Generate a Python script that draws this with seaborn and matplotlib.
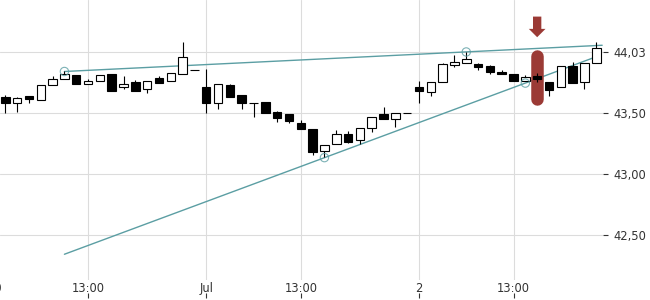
import numpy as np
import pandas as pd
import matplotlib
matplotlib.use("Agg")
import matplotlib.pyplot as plt
import seaborn as sns

# --- data ---
opens = [43.630, 43.580, 43.639, 43.604, 43.730, 43.779, 43.809, 43.735, 43.760, 43.820,
         43.711, 43.754, 43.694, 43.787, 43.760, 43.820, 43.852, 43.711, 43.580, 43.730,
         43.648, 43.584, 43.588, 43.508, 43.492, 43.418, 43.366, 43.189, 43.243, 43.325,
         43.276, 43.375, 43.489, 43.453, 43.502, 43.711, 43.670, 43.752, 43.891, 43.907,
         43.902, 43.883, 43.834, 43.817, 43.760, 43.801, 43.752, 43.711, 43.885, 43.757,
         43.907]
highs = [43.645, 43.629, 43.639, 43.727, 43.803, 43.847, 43.809, 43.776, 43.809, 43.820,
         43.803, 43.770, 43.765, 43.803, 43.825, 44.082, 43.852, 43.858, 43.735, 43.738,
         43.648, 43.584, 43.588, 43.516, 43.492, 43.440, 43.366, 43.235, 43.361, 43.352,
         43.375, 43.470, 43.547, 43.498, 43.502, 43.762, 43.752, 43.907, 43.975, 43.998,
         43.912, 43.896, 43.852, 43.817, 43.809, 43.830, 43.752, 43.885, 43.918, 43.907,
         44.082]
lows = [43.498, 43.511, 43.580, 43.604, 43.730, 43.779, 43.735, 43.735, 43.760, 43.683,
        43.694, 43.683, 43.666, 43.748, 43.760, 43.820, 43.852, 43.498, 43.535, 43.634,
        43.535, 43.470, 43.498, 43.429, 43.420, 43.371, 43.158, 43.142, 43.243, 43.257,
        43.246, 43.342, 43.453, 43.388, 43.502, 43.580, 43.642, 43.752, 43.875, 43.907,
        43.855, 43.822, 43.817, 43.760, 43.760, 43.757, 43.639, 43.711, 43.748, 43.697,
        43.907]
closes = [43.580, 43.620, 43.617, 43.727, 43.776, 43.820, 43.735, 43.760, 43.809, 43.683,
          43.738, 43.683, 43.765, 43.748, 43.825, 43.957, 43.852, 43.580, 43.735, 43.634,
          43.580, 43.584, 43.498, 43.461, 43.437, 43.371, 43.178, 43.235, 43.325, 43.262,
          43.375, 43.470, 43.453, 43.498, 43.502, 43.683, 43.752, 43.899, 43.916, 43.940,
          43.880, 43.839, 43.817, 43.760, 43.798, 43.776, 43.689, 43.885, 43.748, 43.907,
          44.030]

# trend lines (start/end bar, price)
upper_x = [5, 50.5]
upper_y = [43.840, 44.055]
lower_x = [5, 50]
lower_y = [42.342, 43.961]
# touch points
touch_x = [5, 39, 27, 44]
touch_y = [43.840, 44.000, 43.134, 43.745]

# highlighted bar
mark_bar = 45
mark_range = [43.618, 43.965]
arrow_range = [44.290, 44.121]

# axes
xtick_pos = [7, 17, 25, 35, 43]
xtick_labels = ["13:00", "Jul", "13:00", "2", "13:00"]
first_label_pos = -0.9
first_label = "30"
ytick_pos = [42.5, 43.0, 43.5, 44.0]
ytick_labels = ["42,50", "43,00", "43,50", "44,03"]

teal = "#5b9ea3"
red = "#9b3a35"
txt = "#333333"

sns.set_theme(style="whitegrid")
plt.rcParams["font.family"] = ["DejaVu Sans"]

df = pd.DataFrame({"open": opens, "high": highs, "low": lows, "close": closes})
df["bar"] = np.arange(len(df))
df["bottom"] = df[["open", "close"]].min(axis=1)
df["body"] = (df["close"] - df["open"]).abs()
df["fill"] = np.where(df["close"] < df["open"], "black", "white")

fig = plt.figure(figsize=(6.5, 3.0), dpi=100)
ax = fig.add_axes([0.0, 1 - 280 / 300, 603 / 650, 280 / 300])

# trend lines + touch circles
sns.lineplot(x=upper_x, y=upper_y, ax=ax, color=teal, lw=1.0, zorder=1)
sns.lineplot(x=lower_x, y=lower_y, ax=ax, color=teal, lw=1.0, zorder=1)
sns.scatterplot(x=touch_x, y=touch_y, ax=ax, s=36, facecolor="none",
                edgecolor=teal, linewidth=0.8, alpha=0.8, zorder=5)

# highlight behind the marked bar
ax.plot([mark_bar, mark_bar], mark_range, color=red, lw=9, solid_capstyle="round", zorder=2)
ax.annotate("", xy=(mark_bar, arrow_range[1]), xytext=(mark_bar, arrow_range[0]),
            arrowprops=dict(arrowstyle="simple,head_length=0.5,head_width=1.0,tail_width=0.5",
                            mutation_scale=12, color=red, lw=0, shrinkA=0, shrinkB=0),
            zorder=2)

# candles
ax.vlines(df["bar"], df["low"], df["high"], color="black", lw=0.8, zorder=3)
ax.bar(df["bar"], df["body"], bottom=df["bottom"], width=0.72, color=df["fill"],
       edgecolor="black", linewidth=0.8, zorder=4)

ax.set_xlim(-0.45, 50.57)
ax.set_ylim(42.131, 44.426)

ax.set_xticks(xtick_pos)
ax.set_xticklabels(xtick_labels)
ax.yaxis.tick_right()
ax.set_yticks(ytick_pos)
ax.set_yticklabels(ytick_labels)
ax.tick_params(axis="x", length=0, pad=1.5, labelsize=8.3, labelcolor=txt)
ax.tick_params(axis="y", right=True, length=3.6, width=0.8, color=txt, pad=3.6,
               labelsize=8.3, labelcolor=txt)
# date label that sits mostly off the left edge, as in the original
ax.annotate(first_label, xy=(first_label_pos, 0), xycoords=("data", "axes fraction"),
            xytext=(0, -1.5), textcoords="offset points", ha="center", va="top",
            fontsize=8.3, color=txt, annotation_clip=False)

ax.grid(True, color="#dcdcdc", lw=0.8)
for s in ax.spines.values():
    s.set_visible(False)
ax.set_facecolor("white")

# little tick marks under the time labels
sec = ax.secondary_xaxis(-13 / 280)
sec.set_xticks(xtick_pos)
sec.set_xticklabels([])
sec.spines["bottom"].set_visible(False)
sec.tick_params(length=3.6, width=0.8, color=txt)

fig.savefig("out.png", dpi=100, facecolor="white")
